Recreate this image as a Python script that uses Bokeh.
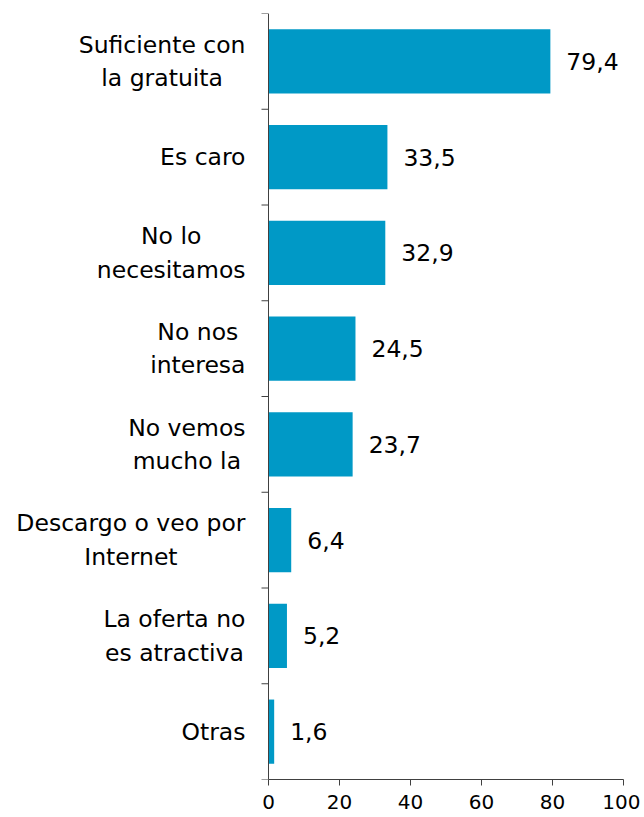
from bokeh.plotting import figure
from bokeh.models import ColumnDataSource, Range1d, FixedTicker, LabelSet, Label, Span
from bokeh.core.properties import value
from bokeh.embed import file_html
from bokeh.resources import INLINE

categories = ["Suficiente con\nla gratuita", "Es caro", "No lo\nnecesitamos", "No nos\ninteresa",
              "No vemos\nmucho la", "Descargo o veo por\nInternet", "La oferta no\nes atractiva", "Otras"]
values = [79.4, 33.5, 32.9, 24.5, 23.7, 6.4, 5.2, 1.6]
value_labels = ["79,4", "33,5", "32,9", "24,5", "23,7", "6,4", "5,2", "1,6"]
x_ticks = [0, 20, 40, 60, 80, 100]

FONT = "DejaVu Sans"
BAR = "#0099c6"
AX = "#404040"

W, H = 640, 817
LEFT, RIGHT, TOP, BOTTOM = 4, 17, 13, 38
AXIS_X = 268            # screen position of value 0
PX_PER_UNIT = (W - RIGHT - AXIS_X) / 100.0
x_start = -(AXIS_X - LEFT) / PX_PER_UNIT
tick_len_units = 7 / PX_PER_UNIT

n = len(categories)
pos = [i + 0.5 for i in range(n)]
bounds = list(range(n + 1))
src = ColumnDataSource(dict(y=pos, v=values, lab=value_labels))
bsrc = ColumnDataSource(dict(y=bounds))

p = figure(width=W, height=H, output_backend="svg", toolbar_location=None,
           x_range=Range1d(x_start, 100), y_range=Range1d(n, 0),
           min_border_left=LEFT, min_border_right=RIGHT, min_border_top=TOP, min_border_bottom=BOTTOM)
p.outline_line_color = None
p.xgrid.visible = False
p.ygrid.visible = False
p.yaxis.visible = False

p.hbar(y="y", right="v", left=0, height=0.67, source=src, color=BAR, line_color=None)

# category axis line and boundary ticks
p.add_layout(Span(location=0, dimension="height", line_color=AX, line_width=1))
p.segment(x0=-tick_len_units, x1=0, y0="y", y1="y", source=bsrc, line_color=AX, line_width=1)

p.add_layout(LabelSet(x="v", y="y", text="lab", source=src, x_offset=16,
                      text_align="left", text_baseline="middle",
                      text_font=value(FONT), text_font_size="23.5px", text_color="black"))

for c, y in zip(categories, pos):
    p.add_layout(Label(x=0, y=y, text=c, x_offset=-23, anchor="center_right",
                       text_align="center", text_baseline="middle",
                       text_font=FONT, text_font_size="23.5px", text_color="black",
                       text_line_height=1.2))

xa = p.xaxis[0]
xa.bounds = (0, 100)
xa.ticker = FixedTicker(ticks=x_ticks)
xa.axis_line_color = AX
xa.major_tick_line_color = AX
xa.major_tick_out = 6
xa.major_tick_in = 0
xa.minor_tick_line_color = None
xa.major_label_text_font = FONT
xa.major_label_text_font_size = "20px"
xa.major_label_text_color = "black"
xa.major_label_standoff = 9

open("out.html", "w").write(file_html(p, INLINE))
